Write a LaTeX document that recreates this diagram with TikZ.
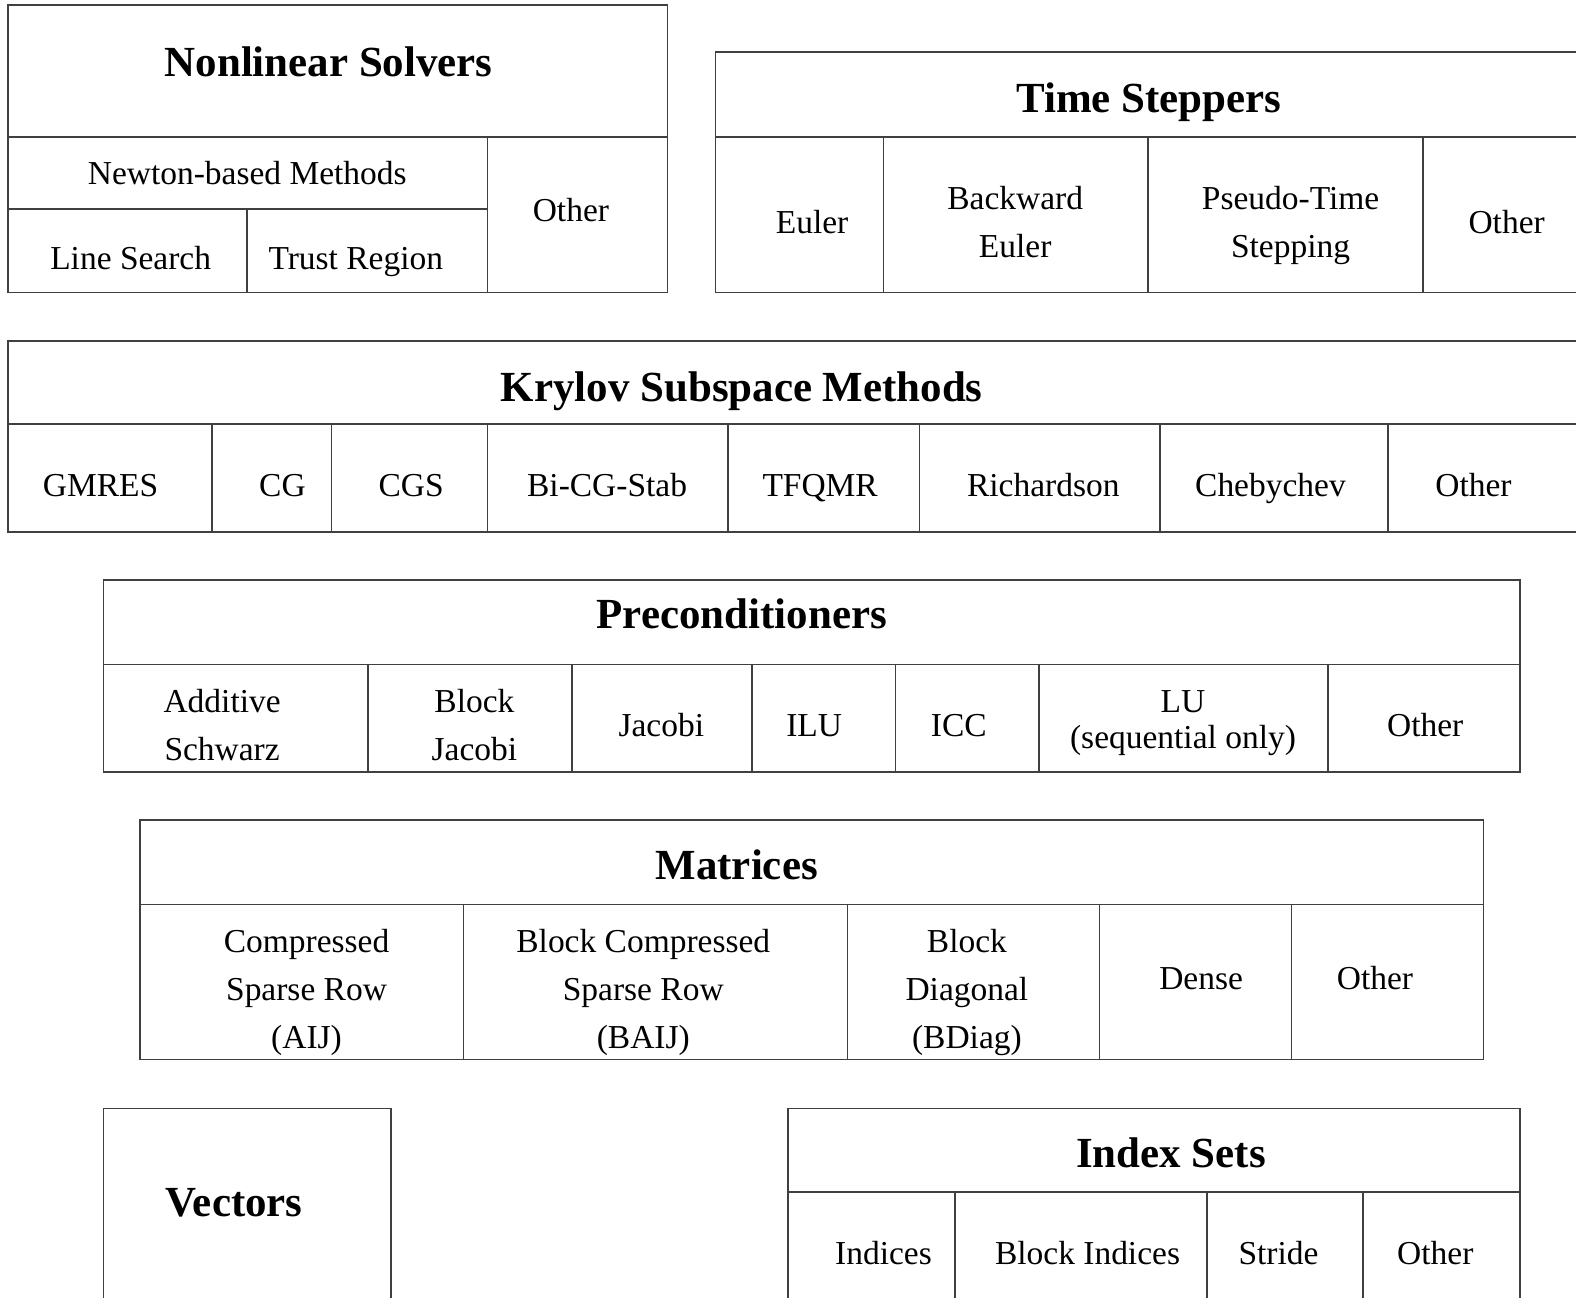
\documentclass[tikz,border=0pt]{standalone}
\usepackage{fontspec}
\setmainfont{Liberation Serif}
\begin{document}
\begin{tikzpicture}[x=1pt,y=-1pt,
  frame/.style={draw=black!75,line width=1.6pt},
  ttl/.style={anchor=base,inner sep=0pt,font=\fontsize{42.7}{48}\selectfont\bfseries},
  lbl/.style={anchor=base,inner sep=0pt,font=\fontsize{33.3}{48}\selectfont},
  mlbl/.style={anchor=base,inner sep=0pt,align=center,font=\fontsize{33.3}{48}\selectfont}]
\clip (0,0) rectangle (1568,1291);
\fill[white] (0,0) rectangle (1568,1291);

% ---------- Nonlinear Solvers ----------
\draw[frame] (8,5) rectangle (664,291);
\draw[frame] (8,136) -- (664,136);
\draw[frame] (8,208) -- (485,208);
\draw[frame] (485,136) -- (485,291);
\draw[frame] (246,208) -- (246,291);
\node[ttl] (ns) at (327,76) {Nonlinear Solvers};
\node[lbl] (ns1) at (246,184) {Newton-based Methods};
\node[lbl] (ns2) at (568,220) {Other};
\node[lbl] (ns3) at (130,268) {Line Search};
\node[lbl] (ns4) at (354,268) {Trust Region};

% ---------- Time Steppers ----------
\draw[frame] (712,52) rectangle (1600,291);
\draw[frame] (712,136) -- (1600,136);
\foreach \x in {879,1142,1416} \draw[frame] (\x,136) -- (\x,291);
\node[ttl] (ts) at (1143,112) {Time Steppers};
\node[lbl] (ts1) at (808,232) {Euler};
\node[mlbl] (ts2) at (1010,256) {Backward\\Euler};
\node[mlbl] (ts3) at (1284,256) {Pseudo-Time\\Stepping};
\node[lbl] (ts4) at (1499,232) {Other};

% ---------- Krylov Subspace Methods ----------
\draw[frame] (8,339) rectangle (1600,529);
\draw[frame] (8,422) -- (1600,422);
\foreach \x in {211,330,485,724,915,1154,1381} \draw[frame] (\x,422) -- (\x,529);
\node[ttl] (ks) at (738,399) {Krylov Subspace Methods};
\node[lbl] (ks1) at (100,494) {GMRES};
\node[lbl] (ks2) at (281,494) {CG};
\node[lbl] (ks3) at (409,494) {CGS};
\node[lbl] (ks4) at (604,494) {Bi-CG-Stab};
\node[lbl] (ks5) at (816,494) {TFQMR};
\node[lbl] (ks6) at (1038,494) {Richardson};
\node[lbl] (ks7) at (1264,494) {Chebychev};
\node[lbl] (ks8) at (1466,494) {Other};

% ---------- Preconditioners ----------
\draw[frame] (103,577) rectangle (1512,768);
\draw[frame] (103,661) -- (1512,661);
\foreach \x in {366,569,748,891,1034,1321} \draw[frame] (\x,661) -- (\x,768);
\node[ttl] (pc) at (738,625) {Preconditioners};
\node[mlbl] (pc1) at (221,757) {Additive\\Schwarz};
\node[mlbl] (pc2) at (472,757) {Block\\Jacobi};
\node[lbl] (pc3) at (658,733) {Jacobi};
\node[lbl] (pc4) at (810,733) {ILU};
\node[lbl] (pc5) at (954,733) {ICC};
\node[mlbl,font=\fontsize{33.3}{36}\selectfont] (pc6) at (1177,745) {LU\\(sequential only)};
\node[lbl] (pc7) at (1418,733) {Other};

% ---------- Matrices ----------
\draw[frame] (139,816) rectangle (1476,1054);
\draw[frame] (139,900) -- (1476,900);
\foreach \x in {461,843,1094,1285} \draw[frame] (\x,900) -- (\x,1054);
\node[ttl] (mat) at (733,875) {Matrices};
\node[mlbl,font=\fontsize{33.3}{47.5}\selectfont] (m1) at (305,1043) {Compressed\\Sparse Row\\(AIJ)};
\node[mlbl,font=\fontsize{33.3}{47.5}\selectfont] (m2) at (640,1043) {Block Compressed\\Sparse Row\\(BAIJ)};
\node[mlbl,font=\fontsize{33.3}{47.5}\selectfont] (m3) at (962,1043) {Block\\Diagonal\\(BDiag)};
\node[lbl] (m4) at (1195,984) {Dense};
\node[lbl] (m5) at (1368,984) {Other};

% ---------- Vectors ----------
\draw[frame] (103,1103) rectangle (389,1320);
\node[ttl] (vec) at (233,1210) {Vectors};

% ---------- Index Sets ----------
\draw[frame] (784,1103) rectangle (1512,1320);
\draw[frame] (784,1186) -- (1512,1186);
\foreach \x in {950,1201,1356} \draw[frame] (\x,1186) -- (\x,1320);
\node[ttl] (is) at (1165,1162) {Index Sets};
\node[lbl] (is1) at (879,1258) {Indices};
\node[lbl] (is2) at (1082,1258) {Block Indices};
\node[lbl] (is3) at (1272,1258) {Stride};
\node[lbl] (is4) at (1428,1258) {Other};
\end{tikzpicture}
\end{document}
